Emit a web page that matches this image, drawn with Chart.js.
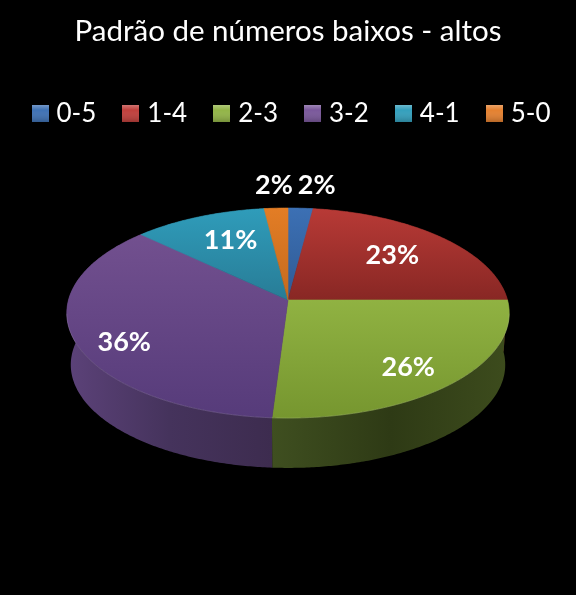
<!DOCTYPE html>
<html>
<head>
<meta charset="utf-8">
<style>
  html, body { margin: 0; padding: 0; background: #000; }
  #wrap { width: 576px; height: 595px; }
</style>
<script src="https://cdn.jsdelivr.net/npm/chart.js@4"></script>
</head>
<body>
<div id="wrap"><canvas id="chart" width="576" height="595"></canvas></div>
<script>
const chartTitle = "Padrão de números baixos - altos";
const categories = ["0-5", "1-4", "2-3", "3-2", "4-1", "5-0"];
const shares = [2.05, 22.95, 26.02, 36.03, 11.0, 1.95];
const percentLabels = ["2%", "23%", "26%", "36%", "11%", "2%"];

// cores: topo (claro -> escuro) e lateral (esq, meio, dir)
const topLight = ["#3c70b4", "#b83a36", "#90b242", "#72508f", "#2f9cba", "#e37d25"];
const topDark = ["#2f5a94", "#882724", "#76962f", "#563b7a", "#287c96", "#c46a1e"];
const sideShades = [
  ["#24446f", "#1b3454", "#24446f"],
  ["#6a1f1c", "#4f1715", "#6a1f1c"],
  ["#3f4f20", "#2e3a15", "#3d4c1d"],
  ["#5c4279", "#45335c", "#3d2c4f"],
  ["#1f6175", "#174958", "#1f6175"],
  ["#9a5317", "#733e11", "#9a5317"]
];
const swatchColors = ["#3f72b5", "#c0403c", "#93b548", "#7a589b", "#34a0bd", "#e58130"];

// geometria da vista em perspectiva
const view = { x: 288, y: 300, rx: 219.5, ry: 103.4, k: 0.124, depth: 52, bottomScale: 0.982 };
// posição dos rótulos: fator radial e ajuste fino
const labelRadius = [1.2, 0.62, 0.7, 0.76, 0.62, 1.2];
const labelNudge = [[14, -7], [7, -4], [8, 11], [-3, 13], [0, -6], [0, -7]];
const legendShift = 5.5;

function project(angle, radius, bottom) {
  const u = Math.cos(angle) * radius;
  const v = Math.sin(angle) * radius;
  const w = 1 - view.k * v;
  const s = bottom ? view.bottomScale : 1;
  return {
    x: view.x + s * view.rx * u / w,
    y: view.y + (bottom ? view.depth : 0) + s * view.ry * v / w
  };
}

function rimPoints(arc, bottom) {
  const pts = [];
  const n = Math.max(4, Math.ceil((arc.endAngle - arc.startAngle) / 0.01));
  for (let i = 0; i <= n; i++) {
    pts.push(project(arc.startAngle + (arc.endAngle - arc.startAngle) * i / n, 1, bottom));
  }
  return pts;
}

function tracePath(ctx, pts) {
  ctx.beginPath();
  pts.forEach((p, i) => (i ? ctx.lineTo(p.x, p.y) : ctx.moveTo(p.x, p.y)));
  ctx.closePath();
}

const pie3d = {
  id: "pie3d",
  afterLayout(chart) {
    // a legenda do original fica um pouco à direita do centro
    chart.legend.left += legendShift;
    chart.legend.right += legendShift;
  },
  beforeDatasetDraw(chart, args) {
    const ctx = chart.ctx;
    const arcs = args.meta.data;
    ctx.save();

    // lateral
    arcs.forEach((arc, i) => {
      const upper = rimPoints(arc, false);
      const lower = rimPoints(arc, true).reverse();
      const xs = upper.concat(lower).map(p => p.x);
      const g = ctx.createLinearGradient(Math.min(...xs), 0, Math.max(...xs), 0);
      g.addColorStop(0, sideShades[i][0]);
      g.addColorStop(0.5, sideShades[i][1]);
      g.addColorStop(1, sideShades[i][2]);
      tracePath(ctx, upper.concat(lower));
      ctx.fillStyle = g;
      ctx.fill();
    });

    // topo
    arcs.forEach((arc, i) => {
      const pts = [{ x: view.x, y: view.y }].concat(rimPoints(arc, false));
      const ys = pts.map(p => p.y);
      const g = ctx.createLinearGradient(0, Math.min(...ys), 0, Math.max(...ys));
      g.addColorStop(0, topLight[i]);
      g.addColorStop(1, topDark[i]);
      tracePath(ctx, pts);
      ctx.fillStyle = g;
      ctx.strokeStyle = g;
      ctx.lineWidth = 0.6;
      ctx.fill();
      ctx.stroke();
    });

    // brilho da borda frontal
    arcs.forEach(arc => {
      const pts = rimPoints(arc, false).filter(p => p.y > view.y + 13);
      if (pts.length < 2) return;
      ctx.beginPath();
      pts.forEach((p, j) => (j ? ctx.lineTo(p.x, p.y) : ctx.moveTo(p.x, p.y)));
      ctx.strokeStyle = "rgba(255,255,255,0.13)";
      ctx.lineWidth = 1;
      ctx.stroke();
    });

    // rótulos
    ctx.font = "bold 27px Lato";
    ctx.fillStyle = "#fff";
    ctx.textAlign = "center";
    ctx.textBaseline = "middle";
    arcs.forEach((arc, i) => {
      const p = project((arc.startAngle + arc.endAngle) / 2, labelRadius[i], false);
      ctx.fillText(percentLabels[i], p.x + labelNudge[i][0], p.y + labelNudge[i][1]);
    });

    ctx.restore();
    return false;
  }
};

function makeSwatch(color) {
  const c = document.createElement("canvas");
  c.width = 17;
  c.height = 17;
  const x = c.getContext("2d");
  x.fillStyle = color;
  x.fillRect(0, 0, 17, 17);
  const g = x.createLinearGradient(0, 0, 0, 17);
  g.addColorStop(0, "rgba(255,255,255,0.28)");
  g.addColorStop(0.3, "rgba(255,255,255,0)");
  g.addColorStop(1, "rgba(0,0,0,0.2)");
  x.fillStyle = g;
  x.fillRect(0, 0, 17, 17);
  return c;
}

new Chart(document.getElementById("chart"), {
  type: "pie",
  data: {
    labels: categories,
    datasets: [{ data: shares, backgroundColor: topLight, borderWidth: 0 }]
  },
  plugins: [pie3d],
  options: {
    responsive: false,
    animation: false,
    devicePixelRatio: 1,
    layout: { padding: { top: 10, bottom: 120 } },
    plugins: {
      tooltip: { enabled: false },
      title: {
        display: true,
        text: chartTitle,
        color: "#fff",
        font: { family: "Lato", size: 29.5, weight: "normal" },
        padding: { top: 4, bottom: 20 }
      },
      legend: {
        position: "top",
        labels: {
          color: "#fff",
          font: { family: "Lato", size: 26 },
          usePointStyle: true,
          boxWidth: 7,
          boxHeight: 17,
          padding: 31,
          generateLabels: chart => categories.map((name, i) => ({
            text: name,
            fillStyle: swatchColors[i],
            strokeStyle: swatchColors[i],
            lineWidth: 0,
            pointStyle: makeSwatch(swatchColors[i]),
            fontColor: "#fff",
            index: i
          }))
        }
      }
    }
  }
});
</script>
</body>
</html>
